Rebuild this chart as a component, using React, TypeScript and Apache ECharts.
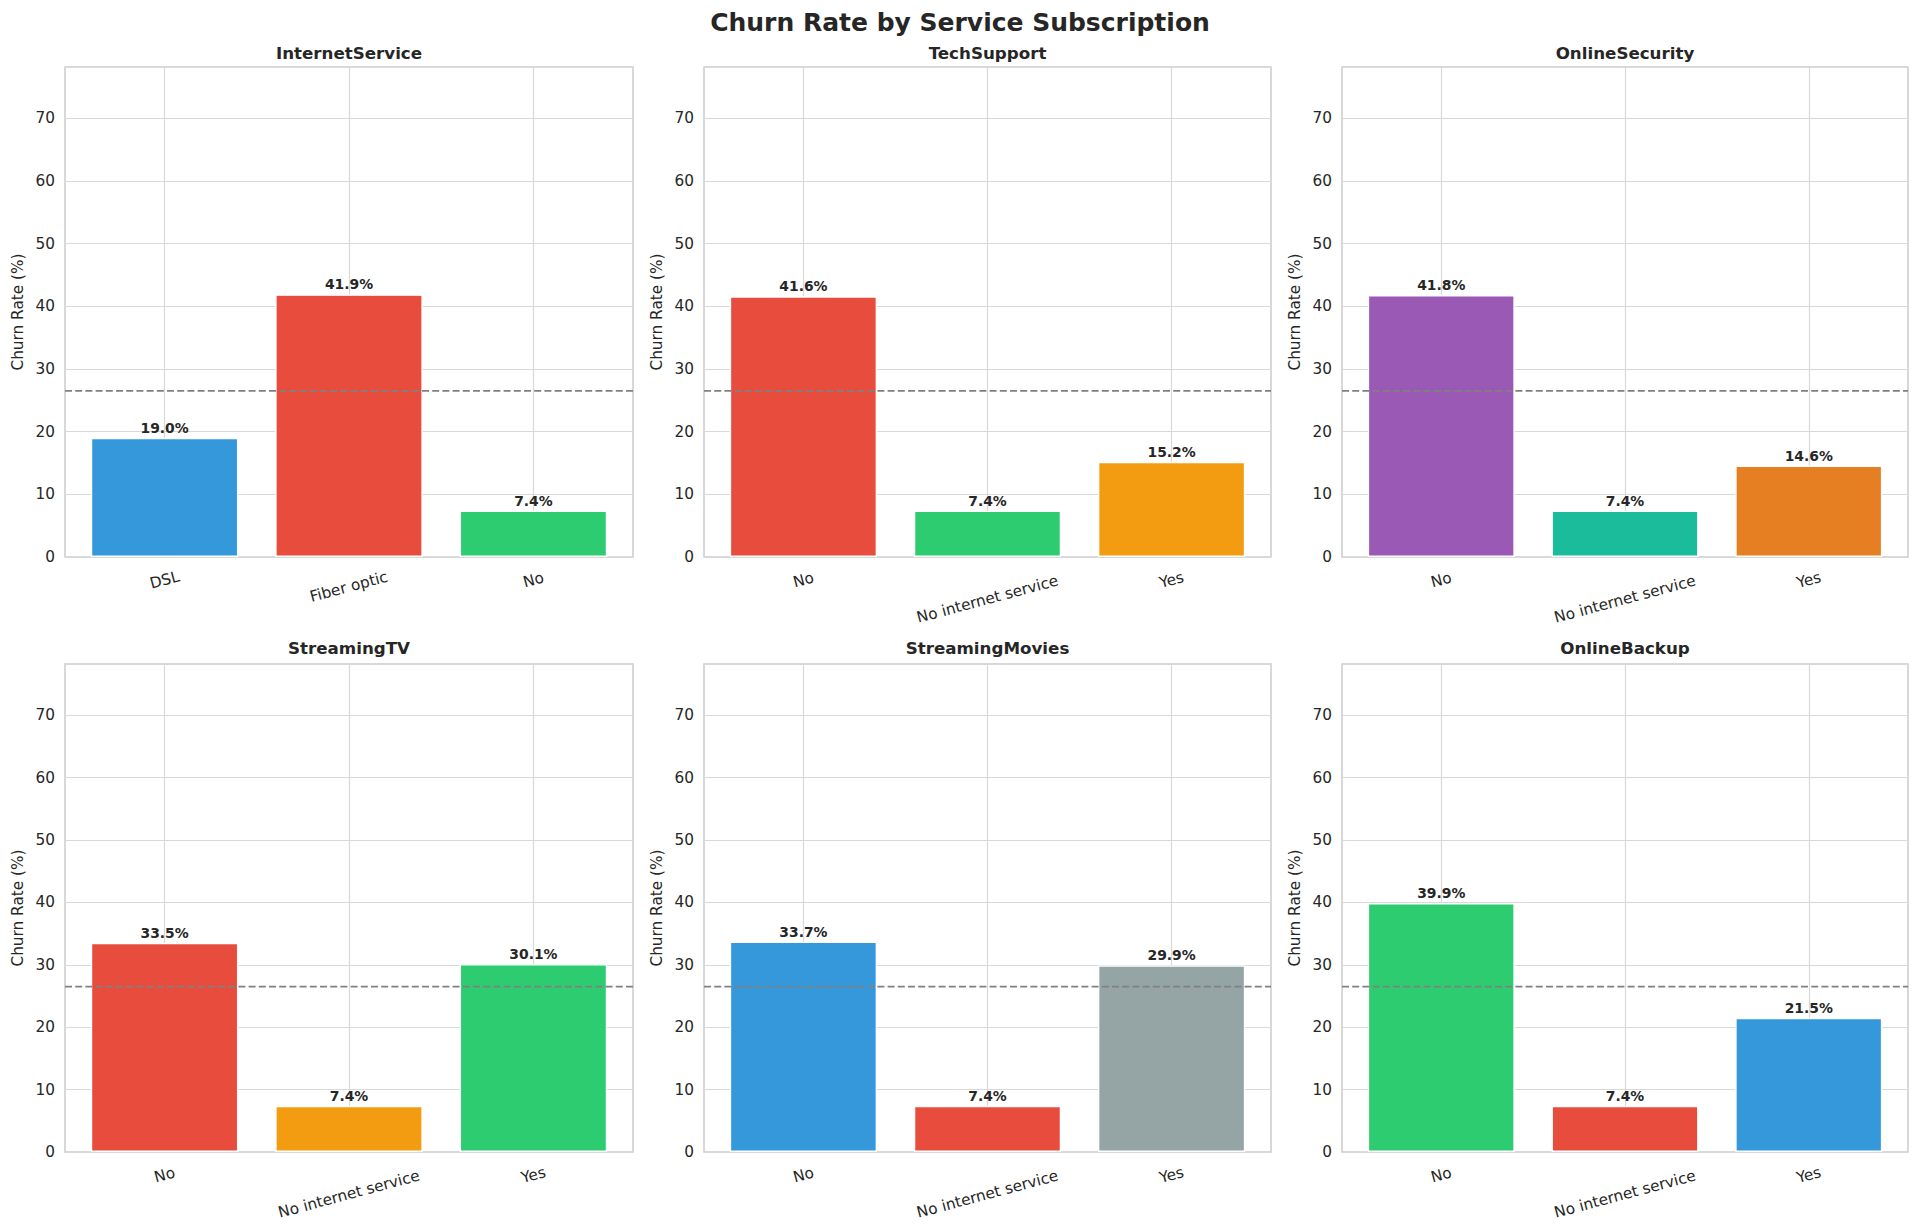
import React, { useEffect, useRef } from 'react';
import * as echarts from 'echarts';

// ---- data ----
const panelTitles = ['InternetService', 'TechSupport', 'OnlineSecurity', 'StreamingTV', 'StreamingMovies', 'OnlineBackup'];
const internetCategories = ['DSL', 'Fiber optic', 'No'];
const serviceCategories = ['No', 'No internet service', 'Yes'];

const internetServiceRates = [19.0, 41.9, 7.4];
const techSupportRates = [41.6, 7.4, 15.2];
const onlineSecurityRates = [41.8, 7.4, 14.6];
const streamingTvRates = [33.5, 7.4, 30.1];
const streamingMoviesRates = [33.7, 7.4, 29.9];
const onlineBackupRates = [39.9, 7.4, 21.5];

const internetServiceColors = ['#3498db', '#e74c3c', '#2ecc71'];
const techSupportColors = ['#e74c3c', '#2ecc71', '#f39c12'];
const onlineSecurityColors = ['#9b59b6', '#1abc9c', '#e67e22'];
const streamingTvColors = ['#e74c3c', '#f39c12', '#2ecc71'];
const streamingMoviesColors = ['#3498db', '#e74c3c', '#95a5a6'];
const onlineBackupColors = ['#2ecc71', '#e74c3c', '#3498db'];

const OVERALL_CHURN = 26.5;
const Y_MAX = 78.2;

const panelCategories = [internetCategories, serviceCategories, serviceCategories, serviceCategories, serviceCategories, serviceCategories];
const panelRates = [internetServiceRates, techSupportRates, onlineSecurityRates, streamingTvRates, streamingMoviesRates, onlineBackupRates];
const panelColors = [internetServiceColors, techSupportColors, onlineSecurityColors, streamingTvColors, streamingMoviesColors, onlineBackupColors];

// ---- layout (px) ----
const COLS = [[65, 633], [704, 1271], [1342, 1908]];
const ROWS = [[67, 557], [664, 1152]];
const ROW_TITLE_Y = [53, 648];
const X_MARGIN = 0.54; // category units between frame and first/last bar centre
const FONT = 'DejaVu Sans';
const TEXT = '#262626';

// extra padding so rotated labels hang like matplotlib's centred ticks
const LABEL_PAD: Record<string, number[]> = {
  'Fiber optic': [13, 4, 0, 0],
  'No internet service': [37, 10, 0, 0],
};

function buildOption(): echarts.EChartsOption {
  const grids: any[] = [];
  const xAxes: any[] = [];
  const yAxes: any[] = [];
  const series: any[] = [];
  const graphics: any[] = [
    {
      type: 'text', x: 960, y: 22,
      style: { text: 'Churn Rate by Service Subscription', fontSize: 25, fontWeight: 'bold', fill: TEXT, fontFamily: FONT, align: 'center', verticalAlign: 'middle' },
    },
  ];

  panelTitles.forEach((title, i) => {
    const [l, r] = COLS[i % 3];
    const [t, b] = ROWS[Math.floor(i / 3)];
    const cats = panelCategories[i];
    const w = r - l;
    const h = b - t;
    const unit = w / (cats.length - 1 + 2 * X_MARGIN);
    const inset = unit * X_MARGIN;
    const ga = grids.length;

    graphics.push({
      type: 'text', x: (l + r) / 2, y: ROW_TITLE_Y[Math.floor(i / 3)],
      style: { text: title, fontSize: 16.7, fontWeight: 'bold', fill: TEXT, fontFamily: FONT, align: 'center', verticalAlign: 'middle' },
    });

    // frame grid: horizontal gridlines, y labels, reference line
    grids.push({ left: l, top: t, width: w, height: h, show: true, borderColor: '#cccccc', borderWidth: 1.5, backgroundColor: '#ffffff', outerBoundsMode: 'none' });
    // bar grid: spans first to last category centre
    grids.push({ left: l + inset, top: t, width: w - 2 * inset, height: h, outerBoundsMode: 'none' });

    xAxes.push({ type: 'value', gridIndex: ga, min: 0, max: 1, show: false });
    yAxes.push({
      type: 'value', gridIndex: ga, min: 0, max: Y_MAX, interval: 10,
      name: 'Churn Rate (%)', nameLocation: 'middle', nameGap: 40, nameMoveOverlap: false,
      nameTextStyle: { fontSize: 15.3, color: TEXT, fontFamily: FONT },
      axisLine: { show: false }, axisTick: { show: false },
      axisLabel: { fontSize: 15.3, color: TEXT, fontFamily: FONT, margin: 10, showMaxLabel: false },
      splitLine: { show: true, lineStyle: { color: '#d9d9d9', width: 1.2 } },
    });

    const rich: Record<string, any> = {};
    cats.forEach((c, k) => {
      rich['l' + k] = { fontSize: 15.3, color: TEXT, fontFamily: FONT, padding: LABEL_PAD[c] || [0, 0, 0, 0] };
    });

    xAxes.push({
      type: 'value', gridIndex: ga + 1, min: 0, max: cats.length - 1, interval: 1,
      axisLine: { show: false }, axisTick: { show: false },
      splitLine: { show: true, lineStyle: { color: '#d9d9d9', width: 1.2 } },
      axisLabel: {
        rotate: 15, align: 'center', verticalAlign: 'middle', margin: 23,
        showMinLabel: true, showMaxLabel: true,
        formatter: (v: number) => {
          const k = Math.round(v);
          return cats[k] !== undefined ? `{l${k}|${cats[k]}}` : '';
        },
        rich,
      },
    });
    yAxes.push({ type: 'value', gridIndex: ga + 1, min: 0, max: Y_MAX, show: false });

    series.push({
      type: 'line', xAxisIndex: ga, yAxisIndex: ga, silent: true, z: 5,
      data: [[0, OVERALL_CHURN], [1, OVERALL_CHURN]],
      symbol: 'none',
      lineStyle: { color: '#808080', width: 1.8, type: [7, 3.2] },
    });
    series.push({
      type: 'bar', xAxisIndex: ga + 1, yAxisIndex: ga + 1, clip: false, silent: true,
      barWidth: unit * 0.8,
      data: panelRates[i].map((v, k) => ({
        value: [k, v],
        itemStyle: { color: panelColors[i][k], borderColor: '#ffffff', borderWidth: 1.4 },
      })),
      label: {
        show: true, position: 'top', distance: 3,
        fontSize: 13.9, fontWeight: 'bold', color: TEXT, fontFamily: FONT,
        formatter: (p: any) => `${p.value[1].toFixed(1)}%`,
      },
    });
  });

  return {
    animation: false,
    backgroundColor: '#ffffff',
    textStyle: { fontFamily: FONT },
    grid: grids,
    xAxis: xAxes,
    yAxis: yAxes,
    series,
    graphic: graphics,
  };
}

const App: React.FC = () => {
  const chartRef = useRef<HTMLDivElement>(null);

  useEffect(() => {
    if (!chartRef.current) return;
    const chart = echarts.init(chartRef.current, null, { renderer: 'svg' });
    chart.setOption(buildOption());
    return () => {
      chart.dispose();
    };
  }, []);

  return (
    <div
      ref={chartRef}
      style={{ position: 'absolute', left: 0, top: 0, width: 1920, height: 1230, background: '#fff' }}
    />
  );
};

export default App;
